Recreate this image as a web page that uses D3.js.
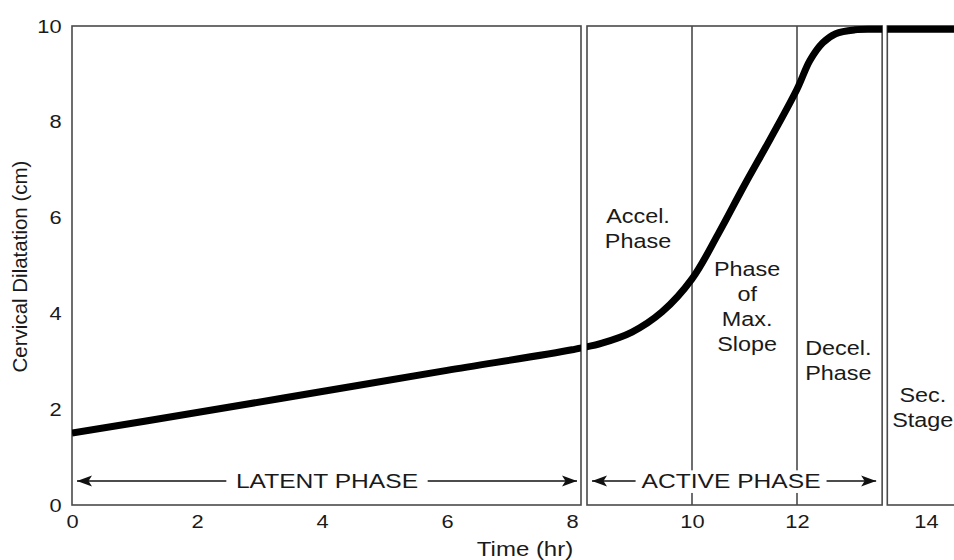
<!DOCTYPE html>
<html>
<head>
<meta charset="utf-8">
<script src="https://cdnjs.cloudflare.com/ajax/libs/d3/7.8.5/d3.min.js"></script>
<style>
  body{margin:0;background:#fff;}
  text{font-family:"Liberation Sans", Arial, Helvetica, sans-serif; fill:#1a1a1a;}
</style>
</head>
<body>
<div id="chart"></div>
<script>
// curve (hours, cm)
var hours = [0, 2, 4, 6, 8, 8.5, 9, 9.5, 10, 10.5, 11, 11.5, 12, 12.2, 12.4, 12.6, 12.9, 13.2, 13.4, 14.6];
var dilatation = [1.5, 1.93, 2.37, 2.81, 3.24, 3.38, 3.61, 4.03, 4.72, 5.66, 6.68, 7.66, 8.68, 9.28, 9.65, 9.84, 9.92, 9.93, 9.93, 9.93];

var xTicks = [0, 2, 4, 6, 8, 10, 12, 14];
var yTicks = [0, 2, 4, 6, 8, 10];

// boxes of the three stages (hours) and the sub-phase dividers
var panelStart = [0, 8.25, 13.4];
var panelEnd = [8.15, 13.32, 14.6];
var dividers = [10, 12];

var phaseNames = ["LATENT PHASE", "ACTIVE PHASE"];
var subLabels = [["Accel.", "Phase"], ["Phase", "of", "Max.", "Slope"], ["Decel.", "Phase"], ["Sec.", "Stage"]];

var w = 954, h = 560;
var stretch = 1.2;   // the lettering in the figure is drawn wide

// the source figure has slightly uneven hour spacing
var x = d3.scaleLinear()
  .domain([0, 8, 10, 12, 14])
  .range([72, 572, 692, 797, 926]);

var y = d3.scaleLinear()
  .domain([0, 10])
  .range([505, 26]);

var svg = d3.select("#chart")
  .append("svg")
  .attr("width", w)
  .attr("height", h)
  .style("background", "#fff");

var defs = svg.append("defs");

defs.append("marker")
  .attr("id", "arrow")
  .attr("viewBox", "0 -6 16 12")
  .attr("refX", 15)
  .attr("refY", 0)
  .attr("markerUnits", "userSpaceOnUse")
  .attr("markerWidth", 16)
  .attr("markerHeight", 12)
  .attr("orient", "auto-start-reverse")
  .append("path")
  .attr("d", "M0,-5.5L15,0L0,5.5L3.5,0Z")
  .attr("fill", "#111");

panelStart.forEach(function(s, i){
  defs.append("clipPath")
    .attr("id", "clip" + i)
    .append("rect")
    .attr("x", x(s))
    .attr("y", 0)
    .attr("width", x(panelEnd[i]) - x(s))
    .attr("height", h);
});

// panel boxes
svg.selectAll(".panel")
  .data(panelStart)
  .enter()
  .append("rect")
  .attr("class", "panel")
  .attr("x", function(d){ return x(d); })
  .attr("y", y(10))
  .attr("width", function(d, i){ return x(panelEnd[i]) - x(d); })
  .attr("height", y(0) - y(10))
  .attr("fill", "none")
  .attr("stroke", "#4a4a4a")
  .attr("stroke-width", 1.6);

svg.selectAll(".divider")
  .data(dividers)
  .enter()
  .append("line")
  .attr("x1", function(d){ return x(d); })
  .attr("x2", function(d){ return x(d); })
  .attr("y1", y(10))
  .attr("y2", y(0))
  .attr("stroke", "#4a4a4a")
  .attr("stroke-width", 1.6);

// axes (labels only, the box is the axis line)
var yAxis = svg.append("g")
  .attr("transform", "translate(" + x(0) + ",0)")
  .call(d3.axisLeft(y).tickValues(yTicks).tickSize(0).tickPadding(9))
  .attr("font-size", null)
  .attr("font-family", null);
yAxis.select(".domain").remove();
yAxis.selectAll("text")
  .style("font-size", "19px")
  .attr("transform", "scale(1.15,1)");

var xAxis = svg.append("g")
  .attr("transform", "translate(0," + y(0) + ")")
  .call(d3.axisBottom(x).tickValues(xTicks).tickSize(0).tickPadding(10))
  .attr("font-size", null)
  .attr("font-family", null);
xAxis.select(".domain").remove();
xAxis.selectAll("text")
  .style("font-size", "19px")
  .attr("transform", "scale(1.15,1)");

svg.append("text")
  .attr("transform", "translate(" + ((x(0) + x(14)) / 2 + 26) + ",556) scale(" + stretch + ",1)")
  .attr("text-anchor", "middle")
  .style("font-size", "20px")
  .text("Time (hr)");

svg.append("text")
  .attr("transform", "translate(27," + (y(5) + 1) + ") rotate(-90)")
  .attr("text-anchor", "middle")
  .style("font-size", "20.5px")
  .text("Cervical Dilatation (cm)");

// double headed arrows along the bottom
var arrowY = y(0.5);
var arrowSpans = [[x(panelStart[0]) + 5, x(panelEnd[0]) - 4], [x(panelStart[1]) + 5, x(panelEnd[1]) - 6]];

arrowSpans.forEach(function(sp, i){
  svg.append("line")
    .attr("x1", sp[0])
    .attr("x2", sp[1])
    .attr("y1", arrowY)
    .attr("y2", arrowY)
    .attr("stroke", "#111")
    .attr("stroke-width", 1.6)
    .attr("marker-start", "url(#arrow)")
    .attr("marker-end", "url(#arrow)");

  var g = svg.append("g")
    .attr("transform", "translate(" + ((sp[0] + sp[1]) / 2 - (i ? 3 : 0)) + "," + arrowY + ") scale(" + stretch + ",1)");
  var bg = g.append("rect").attr("fill", "#fff");
  var t = g.append("text")
    .attr("text-anchor", "middle")
    .attr("dy", "0.36em")
    .style("font-size", "20.5px")
    .text(phaseNames[i]);
  var bb = t.node().getBBox();
  var pad = i ? 5 : 8;
  bg.attr("x", bb.x - pad)
    .attr("y", bb.y)
    .attr("width", bb.width + pad * 2)
    .attr("height", bb.height);
});

// sub-phase labels, placed by hour / cm of their first line
var subAt = [[9.1, 6.03], [11.05, 4.93], [12.64, 3.28], [13.95, 2.3]];

subLabels.forEach(function(lines, i){
  var g = svg.append("g")
    .attr("transform", "translate(" + x(subAt[i][0]) + "," + y(subAt[i][1]) + ") scale(" + stretch + ",1)");
  g.selectAll("text")
    .data(lines)
    .enter()
    .append("text")
    .attr("text-anchor", "middle")
    .attr("y", function(d, j){ return j * 25; })
    .attr("dy", "0.36em")
    .style("font-size", "19.5px")
    .text(function(d){ return d; });
});

// the dilatation curve, broken at the gaps between the boxes
var points = hours.map(function(d, i){ return [d, dilatation[i]]; });

var line = d3.line()
  .x(function(d){ return x(d[0]); })
  .y(function(d){ return y(d[1]); })
  .curve(d3.curveCatmullRom.alpha(0.5));

panelStart.forEach(function(s, i){
  svg.append("path")
    .datum(points)
    .attr("clip-path", "url(#clip" + i + ")")
    .attr("d", line)
    .attr("fill", "none")
    .attr("stroke", "#000")
    .attr("stroke-width", 7);
});
</script>
</body>
</html>
